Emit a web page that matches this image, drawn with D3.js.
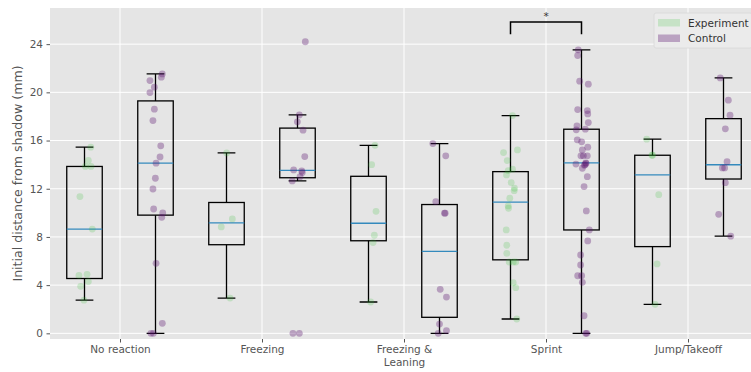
<!DOCTYPE html>
<html>
<head>
<meta charset="utf-8">
<script src="https://cdn.jsdelivr.net/npm/d3@7"></script>
<style>
    body { margin: 0; background: #fff; }
    svg { display: block; font-family: "DejaVu Sans", sans-serif; }
</style>
</head>
<body>
<svg id="chart" width="751" height="372"></svg>
<script>
// Categories on the x axis
const categories = ["No reaction", "Freezing", "Freezing &\nLeaning", "Sprint", "Jump/Takeoff"];
const groups = ["Experiment", "Control"];
const yTicks = [0, 4, 8, 12, 16, 20, 24];

// Distances (mm) per category
const experimentValues = [
    [15.45, 14.35, 13.85, 13.85, 11.35, 8.65, 4.8, 4.9, 4.3, 3.9, 2.75],
    [14.97, 9.49, 8.83, 2.93],
    [15.6, 14.0, 10.13, 8.14, 7.53, 2.6],
    [18.07, 15.22, 15.0, 14.34, 13.62, 13.51, 13.15, 12.51, 12.04, 11.84, 11.21,
        10.57, 10.38, 8.58, 7.31, 6.64, 5.92, 5.92, 5.92, 4.2, 3.79, 1.19],
    [16.11, 14.78, 14.78, 11.51, 5.76, 2.41]
];
const controlValues = [
    [21.53, 21.26, 20.98, 20.43, 19.98, 18.6, 17.66, 15.56, 14.64, 14.12, 12.87,
        11.98, 10.32, 9.99, 9.63, 5.81, 0.83, 0, 0],
    [24.2, 18.13, 17.55, 16.86, 14.67, 13.56, 13.48, 13.34, 13.0, 12.65, 0, 0],
    [15.75, 14.73, 10.93, 9.97, 9.97, 3.65, 3.01, 0.77, 0.22, 0],
    [23.53, 23.06, 20.93, 20.68, 18.57, 18.49, 18.21, 17.49, 17.22, 16.94, 16.89,
        16.06, 15.89, 15.45, 15.22, 14.73, 14.73, 14.73, 14.15, 14.1, 14.05, 14.0,
        13.95, 13.7, 13.0, 12.18, 10.16, 8.58, 7.67, 6.5, 5.67, 4.78, 4.78, 4.23,
        1.46, 0, 0],
    [21.2, 19.35, 18.1, 16.97, 14.25, 13.73, 13.73, 12.5, 9.88, 8.06]
];

// Horizontal jitter of each point (category units), as seen in the picture
const experimentJitter = [
    [0.044, 0.027, 0.006, 0.046, -0.032, 0.055, -0.039, 0.018, 0.027, -0.027, -0.004],
    [0.001, 0.041, -0.037, 0.025],
    [0.046, 0.022, 0.053, 0.041, 0.032, 0.015],
    [0.014, 0.049, -0.049, -0.023, 0.014, -0.016, -0.028, 0.005, 0.028, 0.026, -0.005,
        -0.016, -0.014, -0.03, -0.026, -0.026, -0.009, 0.019, 0.037, 0.019, 0.037, 0.044],
    [-0.041, -0.004, 0.001, 0.044, 0.032, 0.018]
];
const controlJitter = [
    [0.048, 0.041, -0.039, -0.008, -0.039, -0.008, -0.018, 0.037, 0.032, 0.004, -0.001,
        -0.018, -0.013, 0.051, 0.044, 0.004, 0.048, -0.032, -0.015],
    [0.055, 0.013, -0.001, 0.039, 0.051, -0.027, 0.03, 0.034, 0.018, -0.037, -0.032, 0.013],
    [-0.047, 0.044, -0.026, 0.035, 0.040, 0.005, 0.049, 0.0, 0.049, -0.009],
    [-0.023, -0.027, -0.013, 0.048, -0.027, 0.041, 0.044, 0.048, -0.032, 0.027, -0.037,
        -0.030, 0.001, 0.044, 0.006, -0.004, 0.013, 0.041, 0.030, 0.032, -0.039, 0.025,
        0.020, 0.006, 0.041, 0.018, 0.034, 0.055, 0.044, -0.006, -0.006, -0.027, 0.001,
        0.006, 0.018, 0.030, 0.037],
    [-0.023, 0.034, 0.046, 0.013, 0.025, -0.008, 0.008, 0.013, -0.034, 0.051]
];

// Significance bracket
const sigCategory = "Sprint";
const sigLow = 24.83;
const sigHigh = 25.83;
const sigLabel = "*";

const margin = {top: 8, right: 0, bottom: 33, left: 50};
const width = 751, height = 372;
const plotBottom = height - margin.bottom;

const groupOffset = 0.25;
const boxWidth = 0.25;
const colors = {
    Experiment: "rgb(50,190,50)",
    Control: "rgb(90,20,110)"
};
const pointAlpha = {Experiment: 0.2, Control: 0.34};

const svg = d3.select("#chart");

const x = d3.scalePoint()
    .domain(categories)
    .range([120, 688]);
const step = x.step();

const y = d3.scaleLinear()
    .domain([-0.47, 27.0])
    .range([plotBottom, margin.top]);

// Background
svg.append("rect")
    .attr("x", margin.left)
    .attr("y", margin.top)
    .attr("width", width - margin.left - margin.right)
    .attr("height", plotBottom - margin.top)
    .attr("fill", "#e5e5e5");

// Grid
const grid = svg.append("g").attr("stroke", "#fff").attr("stroke-width", 1);
grid.selectAll(".hgrid")
    .data(yTicks)
    .enter().append("line")
    .attr("x1", margin.left).attr("x2", width - margin.right)
    .attr("y1", d => y(d)).attr("y2", d => y(d));
grid.selectAll(".vgrid")
    .data(categories)
    .enter().append("line")
    .attr("x1", d => x(d)).attr("x2", d => x(d))
    .attr("y1", margin.top).attr("y2", plotBottom);

// Axes
const yAxis = svg.append("g")
    .attr("transform", `translate(${margin.left},0)`)
    .call(d3.axisLeft(y).tickValues(yTicks).tickSize(3.5).tickPadding(3.5));
yAxis.select(".domain").remove();

const xAxis = svg.append("g")
    .attr("transform", `translate(0,${plotBottom})`)
    .call(d3.axisBottom(x).tickSize(3.5).tickPadding(3.5));
xAxis.select(".domain").remove();
xAxis.selectAll(".tick text").each(function (d) {
    const t = d3.select(this).text(null);
    d.split("\n").forEach((line, i) => {
        t.append("tspan")
            .attr("x", 0)
            .attr("dy", i === 0 ? "0.71em" : "1.2em")
            .text(line);
    });
});

svg.selectAll(".tick line").attr("stroke", "#555");
svg.selectAll(".tick text")
    .attr("fill", "#555")
    .style("font-size", "10.5px")
    .style("font-family", "DejaVu Sans");

// Y label
svg.append("text")
    .attr("transform", `translate(21.5,${(margin.top + plotBottom) / 2}) rotate(-90)`)
    .attr("text-anchor", "middle")
    .attr("fill", "#555")
    .style("font-size", "12.6px")
    .text("Initial distance from shadow (mm)");

// Box statistics
function boxStats(values) {
    const s = values.slice().sort(d3.ascending);
    const q1 = d3.quantile(s, 0.25), med = d3.quantile(s, 0.5), q3 = d3.quantile(s, 0.75);
    const iqr = q3 - q1;
    const lo = d3.min(s.filter(v => v >= q1 - 1.5 * iqr));
    const hi = d3.max(s.filter(v => v <= q3 + 1.5 * iqr));
    return {q1, med, q3, lo, hi};
}

const boxes = [];
categories.forEach((cat, i) => {
    boxes.push({cat, group: "Experiment", offset: -groupOffset, values: experimentValues[i], jitter: experimentJitter[i]});
    boxes.push({cat, group: "Control", offset: groupOffset, values: controlValues[i], jitter: controlJitter[i]});
});
boxes.forEach(b => b.stats = boxStats(b.values));

const cx = b => x(b.cat) + b.offset * step;
const bw = boxWidth * step;

const boxG = svg.append("g")
    .selectAll("g")
    .data(boxes)
    .enter().append("g");

// Whiskers
boxG.append("path")
    .attr("fill", "none")
    .attr("stroke", "#000")
    .attr("stroke-width", 1.3)
    .attr("d", b => {
        const c = cx(b), s = b.stats;
        return `M ${c},${y(s.q3)} V ${y(s.hi)}
                M ${c - bw / 4},${y(s.hi)} H ${c + bw / 4}
                M ${c},${y(s.q1)} V ${y(s.lo)}
                M ${c - bw / 4},${y(s.lo)} H ${c + bw / 4}`;
    });

// Box
boxG.append("rect")
    .attr("x", b => cx(b) - bw / 2)
    .attr("y", b => y(b.stats.q3))
    .attr("width", bw)
    .attr("height", b => y(b.stats.q1) - y(b.stats.q3))
    .attr("fill", "none")
    .attr("stroke", "#000")
    .attr("stroke-width", 1.3);

// Median
boxG.append("line")
    .attr("x1", b => cx(b) - bw / 2)
    .attr("x2", b => cx(b) + bw / 2)
    .attr("y1", b => y(b.stats.med))
    .attr("y2", b => y(b.stats.med))
    .attr("stroke", "#348ABD")
    .attr("stroke-width", 1.3);

// Points
boxG.selectAll("circle")
    .data(b => b.values.map((v, i) => ({v, j: b.jitter[i], b})))
    .enter().append("circle")
    .attr("cx", d => cx(d.b) + d.j * step)
    .attr("cy", d => y(d.v))
    .attr("r", 3.4)
    .attr("fill", d => colors[d.b.group])
    .attr("fill-opacity", d => pointAlpha[d.b.group]);

// Significance bracket
const sx1 = x(sigCategory) - groupOffset * step;
const sx2 = x(sigCategory) + groupOffset * step;
svg.append("path")
    .attr("fill", "none")
    .attr("stroke", "#000")
    .attr("stroke-width", 1.5)
    .attr("d", `M ${sx1},${y(sigLow)} V ${y(sigHigh)} H ${sx2} V ${y(sigLow)}`);
svg.append("text")
    .attr("x", (sx1 + sx2) / 2)
    .attr("y", y(sigHigh) - 2)
    .attr("text-anchor", "middle")
    .attr("fill", "#333")
    .style("font-size", "10.5px")
    .text(sigLabel);

// Legend
const legend = svg.append("g").attr("transform", "translate(654,13)");
legend.append("rect")
    .attr("width", 98).attr("height", 35)
    .attr("rx", 2)
    .attr("fill", "#ebebeb")
    .attr("stroke", "#d8d8d8")
    .attr("stroke-width", 0.8);
groups.forEach((g, i) => {
    const row = legend.append("g").attr("transform", `translate(0,${6 + i * 15.5})`);
    row.append("rect")
        .attr("x", 4).attr("width", 22).attr("height", 7.5)
        .attr("fill", colors[g])
        .attr("fill-opacity", pointAlpha[g]);
    row.append("text")
        .attr("x", 34).attr("y", 7.5)
        .attr("fill", "#333")
        .style("font-size", "10.5px")
        .text(g);
});
</script>
</body>
</html>
